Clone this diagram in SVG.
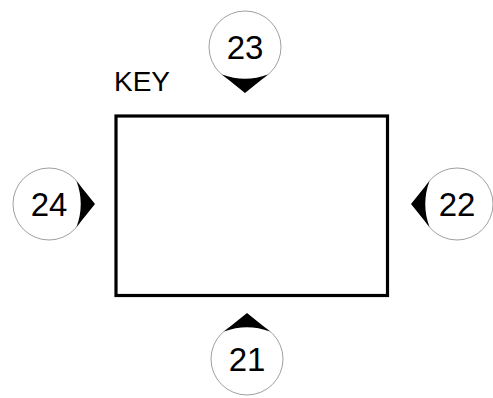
<svg xmlns="http://www.w3.org/2000/svg" width="493" height="398" viewBox="0 0 493 398">
<style>
.wedge{fill:#000}
.disc{fill:#fff;stroke:#a0a0a0;stroke-width:1}
.num{font-family:"Liberation Sans",Arial,sans-serif;font-size:33px;fill:#000;text-anchor:middle}
.key{font-family:"Liberation Sans",Arial,sans-serif;font-size:28px;fill:#000}
</style>
<defs>
<g id="pin">
<circle class="disc" r="36"/>
<path class="wedge" d="M-23,27.5 Q0,36 23,27.5 L0,46 Z"/>
</g>
</defs>
<rect width="493" height="398" fill="#fff"/>
<g id="box">
<rect x="116" y="116" width="271.5" height="179.5" fill="none" stroke="#000" stroke-width="3.2"/>
</g>
<g id="key-label"><text class="key" x="114" y="91">KEY</text></g>
<g id="node-23">
<use href="#pin" transform="translate(245,47)"/>
<text class="num" x="245" y="59">23</text>
</g>
<g id="node-21">
<use href="#pin" transform="translate(247,359) rotate(180)"/>
<text class="num" x="247" y="371">21</text>
</g>
<g id="node-24">
<use href="#pin" transform="translate(49,204) rotate(-90)"/>
<text class="num" x="49" y="216">24</text>
</g>
<g id="node-22">
<use href="#pin" transform="translate(457,204) rotate(90)"/>
<text class="num" x="457" y="216">22</text>
</g>
</svg>
